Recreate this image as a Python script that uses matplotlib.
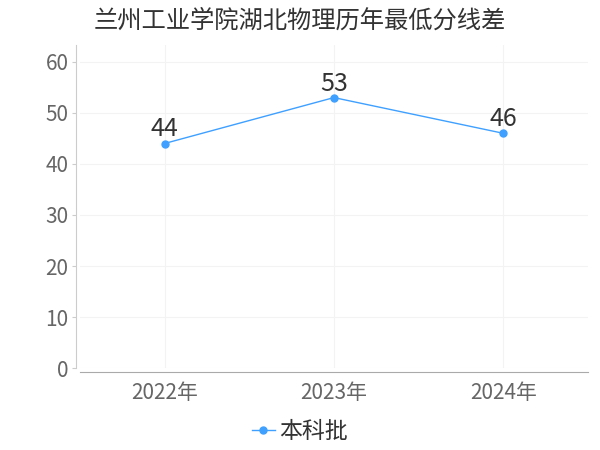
import matplotlib
matplotlib.use('Agg')
import matplotlib.pyplot as plt

plt.rcParams['font.family'] = ['Noto Sans CJK SC', 'DejaVu Sans']

years = ['2022年', '2023年', '2024年']
scores = [44, 53, 46]
series_name = '本科批'
title = '兰州工业学院湖北物理历年最低分线差'

fig = plt.figure(figsize=(6, 4.5), dpi=100)
ax = fig.add_axes([0.133, 0.182, 0.847, 0.718])

x = range(len(years))
ax.plot(x, scores, color='#3fa0ff', lw=1, marker='o', ms=5, label=series_name)
for xi, v in zip(x, scores):
    ax.text(xi, v + 0.2, str(v), ha='center', va='bottom', fontsize=18, color='#333333')

ax.set_xlim(-0.5, 2.5)
ax.set_ylim(0, 63.3)
ax.set_yticks([0, 10, 20, 30, 40, 50, 60])
ax.set_xticks(list(x))
ax.set_xticklabels(years)
ax.grid(True, color='#f3f3f3', lw=0.8)
ax.set_axisbelow(True)

for s in ['top', 'right']:
    ax.spines[s].set_visible(False)
ax.spines['left'].set_position(('outward', 3))
ax.spines['bottom'].set_position(('outward', 3))
ax.spines['left'].set_color('#cccccc')
ax.spines['bottom'].set_color('#aaaaaa')
ax.tick_params(axis='y', length=3, color='#cccccc', labelsize=15, labelcolor='#666666', pad=2)
ax.tick_params(axis='x', length=0, labelsize=15, labelcolor='#666666', pad=7)

fig.text(0.5, 0.955, title, ha='center', va='center', fontsize=17.5, color='#333333')

fig.legend(loc='center', bbox_to_anchor=(0.5, 0.04), frameon=False, fontsize=16.5,
           handlelength=1.0, handletextpad=0.2, labelcolor='#333333')

fig.savefig('out.png', dpi=100)
